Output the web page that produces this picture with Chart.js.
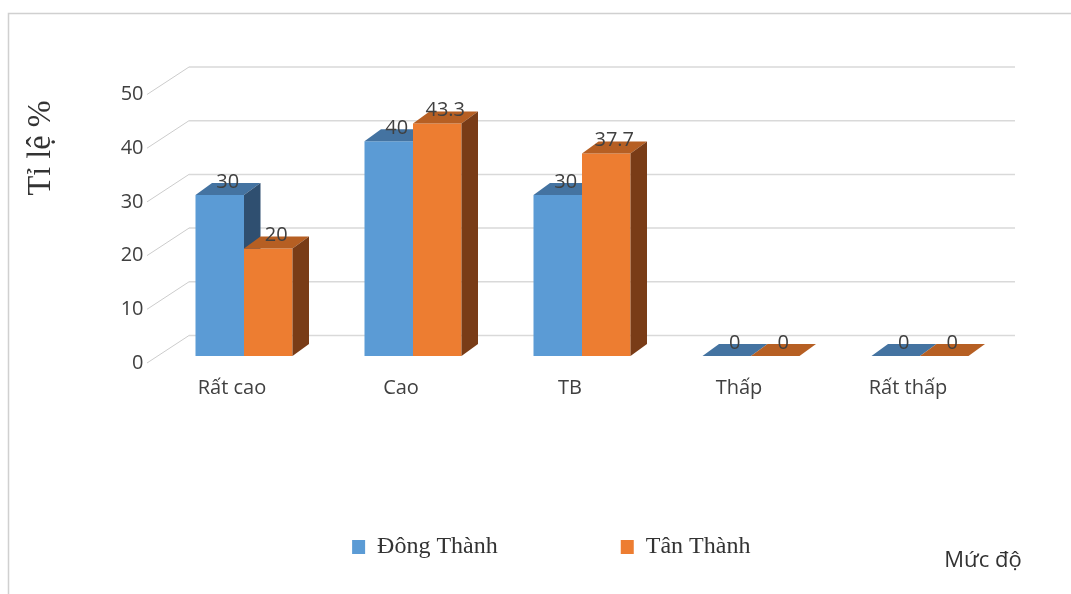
<!DOCTYPE html>
<html lang="vi">
<head>
  <meta charset="UTF-8" />
  <title>Mức độ</title>
  <script src="https://cdn.jsdelivr.net/npm/chart.js"></script>
  <style>
    html, body { margin: 0; padding: 0; background: #fff; }
    .chart-box { width: 1071px; height: 594px; position: relative; }
  </style>
</head>
<body>
  <div class="chart-box"><canvas id="levelChart"></canvas></div>

  <script>
    const levels = ["Rất cao", "Cao", "TB", "Thấp", "Rất thấp"];
    const dongThanh = [30, 40, 30, 0, 0];
    const tanThanh = [20, 43.3, 37.7, 0, 0];
    const yTicks = [0, 10, 20, 30, 40, 50];

    // depth of the bars and of the back wall (pseudo 3D)
    const DEPTH_X = 16.5;
    const DEPTH_Y = -12;
    const faceColors = [
      { top: "#4473a1", side: "#2f4f70" },
      { top: "#b65f23", side: "#793c17" }
    ];
    const textColor = "#404040";

    const bars3d = {
      id: "bars3d",
      beforeDraw(chart) {
        const ctx = chart.ctx;
        ctx.save();
        ctx.strokeStyle = "#d0d0d0";
        ctx.lineWidth = 1.5;
        ctx.strokeRect(8.5, 13.5, 1200, 800);
        ctx.restore();
      },
      beforeDatasetsDraw(chart) {
        const { ctx, chartArea: a, scales: { y } } = chart;
        ctx.save();

        // back wall grid + slanted lines to the axis
        yTicks.forEach(v => {
          const py = y.getPixelForValue(v);
          ctx.strokeStyle = "#d9d9d9";
          ctx.lineWidth = 1.5;
          ctx.beginPath();
          ctx.moveTo(a.left + 29.5, py - 20.5);
          ctx.lineTo(a.right + 10.5, py - 20.5);
          ctx.stroke();
          ctx.strokeStyle = "#cccccc";
          ctx.lineWidth = 1;
          ctx.beginPath();
          ctx.moveTo(a.left - 12.5, py + 7);
          ctx.lineTo(a.left + 29.5, py - 20.5);
          ctx.stroke();
        });

        // fronts, then top and side faces, one series after the other
        chart.data.datasets.forEach((ds, i) => {
          const meta = chart.getDatasetMeta(i);
          meta.controller.draw();
          const c = faceColors[i];
          meta.data.forEach(bar => {
            const l = bar.x - bar.width / 2;
            const r = bar.x + bar.width / 2;
            ctx.fillStyle = c.top;
            ctx.beginPath();
            ctx.moveTo(l, bar.y);
            ctx.lineTo(r, bar.y);
            ctx.lineTo(r + DEPTH_X, bar.y + DEPTH_Y);
            ctx.lineTo(l + DEPTH_X, bar.y + DEPTH_Y);
            ctx.closePath();
            ctx.fill();
            if (bar.base - bar.y > 0.5) {
              ctx.fillStyle = c.side;
              ctx.beginPath();
              ctx.moveTo(r, bar.y);
              ctx.lineTo(r + DEPTH_X, bar.y + DEPTH_Y);
              ctx.lineTo(r + DEPTH_X, bar.base + DEPTH_Y);
              ctx.lineTo(r, bar.base);
              ctx.closePath();
              ctx.fill();
            }
          });
        });

        // value labels
        ctx.fillStyle = textColor;
        ctx.font = "20px 'Open Sans'";
        ctx.textAlign = "center";
        ctx.textBaseline = "middle";
        chart.data.datasets.forEach((ds, i) => {
          chart.getDatasetMeta(i).data.forEach((bar, j) => {
            ctx.fillText(String(ds.data[j]), bar.x + 8, bar.y - 13);
          });
        });

        // axis titles
        ctx.fillStyle = "#333";
        ctx.font = "34px 'Liberation Serif'";
        ctx.save();
        ctx.translate(41, 148);
        ctx.rotate(-Math.PI / 2);
        ctx.scale(0.95, 1);
        ctx.fillText("Tỉ lệ %", 0, 0);
        ctx.restore();
        ctx.font = "22px 'Open Sans'";
        ctx.fillText("Mức độ", 983, 561);

        ctx.restore();
        return false;
      }
    };

    new Chart(document.getElementById("levelChart"), {
      type: "bar",
      data: {
        labels: levels,
        datasets: [
          { label: "Đông Thành", data: dongThanh, backgroundColor: "#5b9bd5" },
          { label: "Tân Thành", data: tanThanh, backgroundColor: "#ed7d31" }
        ]
      },
      options: {
        responsive: true,
        maintainAspectRatio: false,
        animation: false,
        events: [],
        categoryPercentage: 0.574,
        barPercentage: 1,
        layout: { padding: { left: 98, right: 66.5, top: 87.5, bottom: 25 } },
        scales: {
          x: {
            grid: { display: false, drawTicks: false },
            border: { display: false },
            ticks: { padding: 20, labelOffset: -12, color: textColor, font: { family: "'Open Sans'", size: 20 } },
            afterFit(s) { s.height = 56; }
          },
          y: {
            min: 0,
            max: 50,
            grid: { display: false, drawTicks: false },
            border: { display: false },
            ticks: { stepSize: 10, padding: 16, labelOffset: 7, color: textColor, font: { family: "'Open Sans'", size: 20 } },
            afterFit(s) { s.width = 61.5; }
          }
        },
        plugins: {
          tooltip: { enabled: false },
          legend: {
            position: "bottom",
            labels: {
              boxWidth: 13,
              boxHeight: 14,
              padding: 123,
              color: "#333",
              font: { family: "'Liberation Serif'", size: 24 }
            }
          }
        }
      },
      plugins: [bars3d]
    });
  </script>
</body>
</html>
